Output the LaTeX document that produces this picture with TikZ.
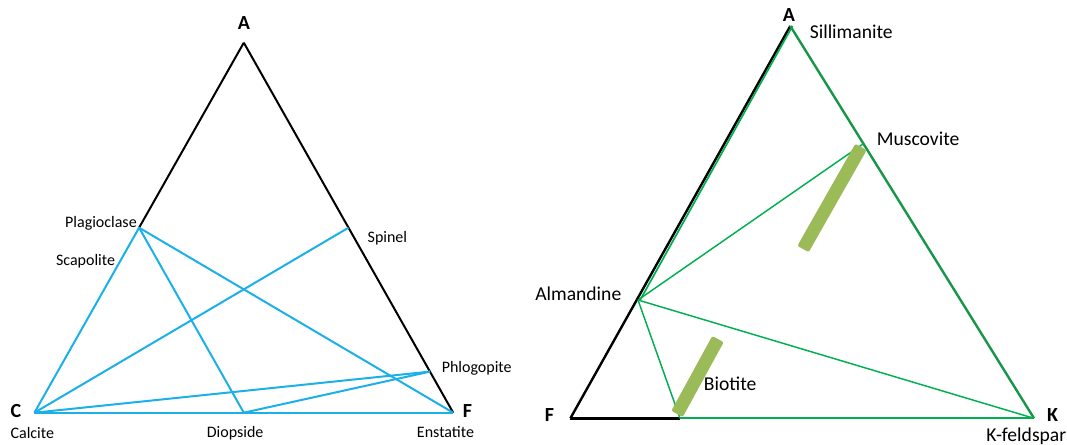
\documentclass[tikz,border=0pt]{standalone}
\usepackage{fontspec}
\setmainfont{Carlito}
\definecolor{lblue}{RGB}{28,176,232}
\definecolor{dgreen}{RGB}{24,150,72}
\definecolor{lgreen}{RGB}{0,176,80}
\definecolor{olive}{RGB}{155,187,89}
\begin{document}
\begin{tikzpicture}[x=0.75pt,y=-0.75pt,
  lab/.style={inner sep=0pt,text height=0.7em,text depth=0.2em,font=\fontsize{12}{14}\selectfont},
  rlab/.style={inner sep=0pt,text height=0.7em,text depth=0.2em,font=\fontsize{14.7}{17}\selectfont},
  vtx/.style={inner sep=0pt,text height=0.65em,text depth=0pt,font=\fontsize{15}{17}\selectfont\bfseries},
  blk/.style={draw=black,line width=1.5pt},
  blu/.style={draw=lblue,line width=1.5pt},
  gthin/.style={draw=lgreen,line width=1.1pt},
  gthick/.style={draw=dgreen,line width=1.8pt},
  bar/.style={fill=olive,draw=none,rectangle,rounded corners=1.5pt,inner sep=0pt,minimum height=9.75pt}]
\useasboundingbox (0,0) rectangle (1067,445);
% ---------- left triangle ----------
\coordinate (A1) at (243.8,42.7);
\coordinate (C) at (34.4,412.7);
\coordinate (F1) at (453.2,412.7);
\coordinate (Pl) at (139.1,227.7);
\coordinate (Sp) at (348.5,227.7);
\coordinate (Ph) at (430,371.6);
\coordinate (Di) at (243.8,412.7);
\draw[blk] (A1) -- (Pl);
\draw[blk] (A1) -- (F1);
\draw[blu] (C) -- (Pl);
\draw[blu] (C) -- (F1);
\draw[blu] (Pl) -- (Di);
\draw[blu] (Pl) -- (F1);
\draw[blu] (C) -- (Sp);
\draw[blu] (C) -- (Ph);
\draw[blu] (Di) -- (Ph);
\node[vtx] (lA) at (244,25) {A};
\node[vtx] (lC) at (16,413) {C};
\node[vtx] (lF) at (467.5,413) {F};
\node[lab,anchor=east] (lPl) at (137,224) {Plagioclase};
\node[lab,anchor=west] (lSc) at (55.8,262) {Scapolite};
\node[lab,anchor=west] (lSp) at (367.4,239) {Spinel};
\node[lab,anchor=west] (lPh) at (441.5,369) {Phlogopite};
\node[lab,anchor=west] (lCa) at (10.3,435) {Calcite};
\node[lab,anchor=west] (lDi) at (206.6,434) {Diopside};
\node[lab,anchor=west] (lEn) at (416.7,434) {Enstatite};
% ---------- right triangle ----------
\coordinate (A2) at (790.3,26);
\coordinate (F2) at (570.4,418.3);
\coordinate (K) at (1034,418.3);
\coordinate (Al) at (638,300);
\coordinate (Mu) at (863.4,143.7);
\coordinate (Bi) at (680,418.3);
\draw[blk,line width=1.8pt] (F2) -- (A2);
\draw[blk,line width=1.8pt] (F2) -- (Bi);
\draw[gthin,line width=1.3pt] ([xshift=1.6]Al) -- ([xshift=1.6]A2);
\draw[gthick] (A2) -- (K);
\draw[gthin,line width=1.6pt] (Bi) -- (K);
\draw[gthin] (Al) -- (Mu);
\draw[gthin] (Al) -- (K);
\draw[gthin] (Al) -- (Bi);
\node[bar,minimum width=88pt,rotate=60.4] (bar1) at (832,198) {};
\node[bar,minimum width=64pt,rotate=61.3] (bar2) at (697.5,376.5) {};
\node[vtx] (rA) at (789,17) {A};
\node[vtx] (rF) at (549.5,417) {F};
\node[vtx] (rK) at (1052.5,417) {K};
\node[rlab,anchor=west] (rSi) at (809.5,35) {Sillimanite};
\node[rlab,anchor=west] (rMu) at (876.6,142) {Muscovite};
\node[rlab,anchor=west] (rAl) at (535,297) {Almandine};
\node[rlab,anchor=west] (rBi) at (703.6,387) {Biotite};
\node[rlab,anchor=west] (rKf) at (986,438) {K-feldspar};
\end{tikzpicture}
\end{document}
